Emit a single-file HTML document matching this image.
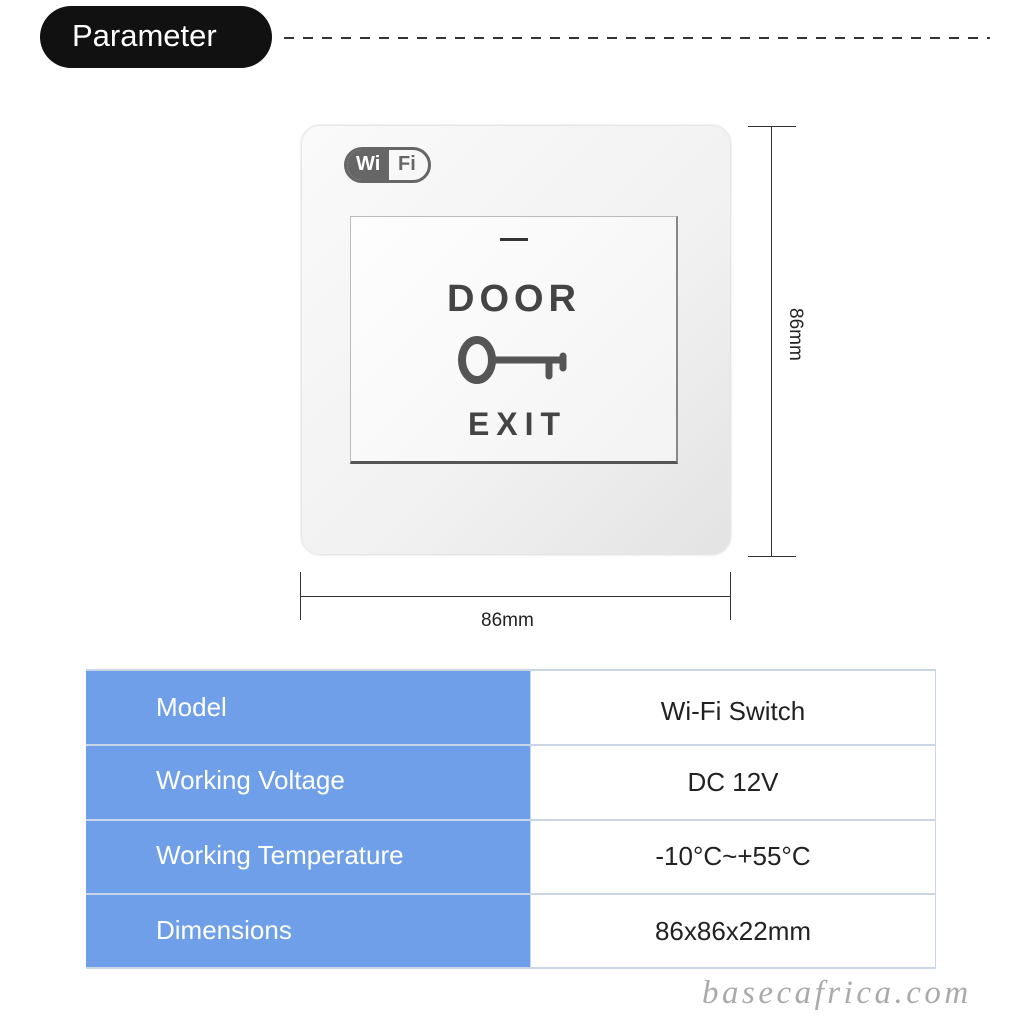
<!DOCTYPE html>
<html><head><meta charset="utf-8"><style>
body{margin:0;width:1024px;height:1024px;background:#fff;position:relative;overflow:hidden;font-family:"Liberation Sans",sans-serif}
.a{position:absolute}
.lab{position:absolute;left:156px;color:#fff;font-size:26px}
.val{position:absolute;left:530px;width:406px;text-align:center;color:#222;font-size:26px}
.hl{position:absolute;left:86px;width:850px;height:2px;background:#c9d6e8}
</style></head><body>
<div class="a" style="left:40px;top:6px;width:232px;height:62px;background:#111;border-radius:31px"></div>
<div class="a" style="left:72px;top:18px;color:#fff;font-size:31px">Parameter</div>
<div class="a" style="left:284px;top:37px;width:706px;height:2px;background:repeating-linear-gradient(90deg,#333 0 10px,transparent 10px 19px)"></div>

<div class="a" style="left:302px;top:126px;width:428px;height:428px;border-radius:18px;background:linear-gradient(135deg,#fafafa,#f1f1f1 60%,#e3e3e3);box-shadow:0 0 3px #bbb"></div>
<div class="a" style="left:344px;top:147px;width:87px;height:36px;border:3px solid #666;border-radius:18px;box-sizing:border-box;overflow:hidden">
 <div class="a" style="left:0;top:0;width:42px;height:36px;background:#666"></div>
 <div class="a" style="left:9px;top:3px;color:#fff;font-weight:bold;font-size:20px">Wi</div>
 <div class="a" style="left:51px;top:3px;color:#666;font-weight:bold;font-size:20px">Fi</div>
</div>
<div class="a" style="left:350px;top:216px;width:328px;height:248px;background:linear-gradient(135deg,#fefefe,#f3f3f3);border:1px solid #bbb;border-bottom:3px solid #555;border-right:2px solid #888;box-sizing:border-box"></div>
<div class="a" style="left:500px;top:238px;width:28px;height:3px;background:#333"></div>
<div class="a" style="left:350px;top:278px;width:328px;text-align:center;color:#444;font-weight:bold;font-size:38px;letter-spacing:5px">DOOR</div>
<svg class="a" style="left:455px;top:332px" width="115" height="60"><ellipse cx="22" cy="28" rx="15" ry="20" fill="none" stroke="#555" stroke-width="8"/><path d="M37 28 H108 M94 28 V44 M108 24 V36" stroke="#555" stroke-width="7" fill="none" stroke-linecap="round"/></svg>
<div class="a" style="left:350px;top:406px;width:328px;text-align:center;color:#444;font-weight:bold;font-size:32px;letter-spacing:7px;text-indent:7px">EXIT</div>

<div class="a" style="left:748px;top:126px;width:48px;border-top:1px solid #333"></div>
<div class="a" style="left:748px;top:556px;width:48px;border-top:1px solid #333"></div>
<div class="a" style="left:771px;top:126px;height:430px;border-left:1px solid #333"></div>
<div class="a" style="left:806px;top:308px;font-size:19px;color:#222;transform:rotate(90deg);transform-origin:left top">86mm</div>
<div class="a" style="left:300px;top:572px;height:48px;border-left:1px solid #333"></div>
<div class="a" style="left:730px;top:572px;height:48px;border-left:1px solid #333"></div>
<div class="a" style="left:300px;top:596px;width:430px;border-top:1px solid #333"></div>
<div class="a" style="left:481px;top:610px;font-size:19px;color:#222">86mm</div>

<div class="a" style="left:86px;top:670px;width:444px;height:298px;background:#6f9fe8"></div>
<div class="a" style="left:530px;top:670px;width:406px;height:298px;border:1px solid #c9d6e8;box-sizing:border-box"></div>
<div class="hl" style="top:669px"></div><div class="hl" style="top:744px"></div><div class="hl" style="top:819px"></div><div class="hl" style="top:893px"></div><div class="hl" style="top:967px"></div>
<div class="lab" style="top:692px">Model</div>
<div class="lab" style="top:765px">Working Voltage</div>
<div class="lab" style="top:840px">Working Temperature</div>
<div class="lab" style="top:915px">Dimensions</div>
<div class="val" style="top:696px">Wi-Fi Switch</div>
<div class="val" style="top:767px">DC 12V</div>
<div class="val" style="top:841px">-10°C~+55°C</div>
<div class="val" style="top:916px">86x86x22mm</div>
<div class="a" style="left:702px;top:975px;font-family:'Liberation Serif',serif;font-style:italic;font-size:33px;color:#aaa;letter-spacing:3.5px">basecafrica.com</div>
</body></html>
